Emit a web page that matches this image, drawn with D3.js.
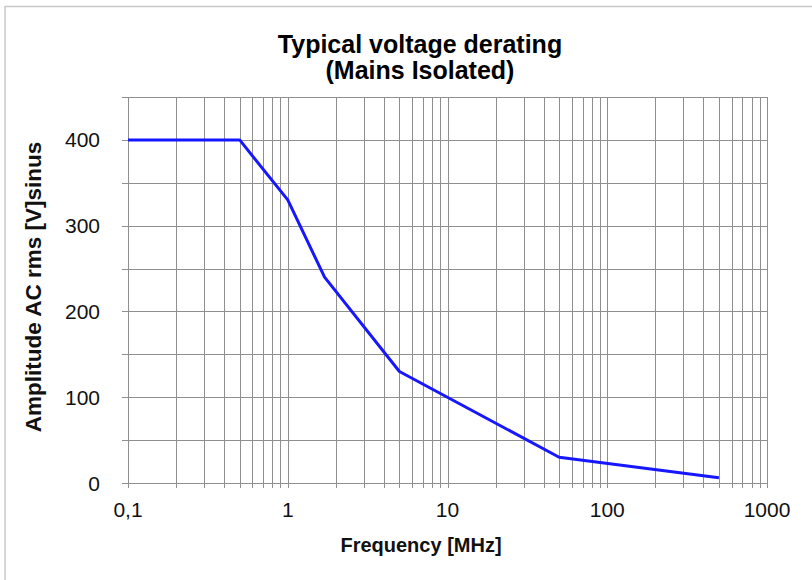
<!DOCTYPE html>
<html lang="en">
<head>
<meta charset="utf-8">
<title>Typical voltage derating</title>
<script src="https://d3js.org/d3.v7.min.js"></script>
<style>
  html, body { margin: 0; padding: 0; background: #fff; }
  svg { display: block; font-family: "Liberation Sans", Arial, sans-serif; }
</style>
</head>
<body>
<svg id="chart" width="812" height="580"></svg>
<script>
// frequency in MHz, amplitude in V rms
const freq = [0.1, 0.5, 1, 1.7, 5, 50, 500];
const amplitude = [400, 400, 330, 240, 130, 30, 6];
const xLabels = [0.1, 1, 10, 100, 1000];
const yLabels = [0, 100, 200, 300, 400];

const svg = d3.select("#chart");
const plotLeft = 128, plotRight = 767, plotTop = 97, plotBottom = 483;

const x = d3.scaleLog().domain([0.1, 1000]).range([plotLeft, plotRight]);
const y = d3.scaleLinear().domain([0, 450]).range([plotBottom, plotTop]);

// outer frame (only top and left visible in the original)
svg.append("line").attr("x1", 5).attr("x2", 812).attr("y1", 6.5).attr("y2", 6.5)
  .attr("stroke", "#c8c8c8").attr("stroke-width", 1.5);
svg.append("line").attr("x1", 5).attr("x2", 5).attr("y1", 6).attr("y2", 580)
  .attr("stroke", "#c8c8c8").attr("stroke-width", 1.5);

// grid
const grid = svg.append("g").attr("stroke", "#8f8f8f").attr("stroke-width", 1);
grid.selectAll(".vx").data(x.ticks()).join("line")
  .attr("x1", d => Math.round(x(d)) + 0.5).attr("x2", d => Math.round(x(d)) + 0.5)
  .attr("y1", plotTop).attr("y2", plotBottom + 5);
grid.selectAll(".hy").data(d3.range(0, 451, 50)).join("line")
  .attr("x1", plotLeft - 6).attr("x2", plotRight)
  .attr("y1", d => Math.round(y(d)) + 0.5).attr("y2", d => Math.round(y(d)) + 0.5);

// tick labels
svg.append("g").selectAll("text").data(xLabels).join("text")
  .attr("x", d => x(d)).attr("y", 517)
  .attr("text-anchor", "middle").attr("font-size", 21).attr("fill", "#111")
  .text(d => String(d).replace(".", ","));
svg.append("g").selectAll("text").data(yLabels).join("text")
  .attr("x", 100).attr("y", d => y(d) + 7.5)
  .attr("text-anchor", "end").attr("font-size", 21).attr("fill", "#111")
  .text(d => d);

// data line
svg.append("path")
  .datum(d3.zip(freq, amplitude))
  .attr("fill", "none").attr("stroke", "#1717ff").attr("stroke-width", 3)
  .attr("stroke-linejoin", "round")
  .attr("d", d3.line().x(d => x(d[0])).y(d => y(d[1])));

// titles
const title = svg.append("text").attr("text-anchor", "middle")
  .attr("font-weight", "bold").attr("font-size", 25).attr("fill", "#000");
title.append("tspan").attr("x", 420).attr("y", 53).text("Typical voltage derating");
title.append("tspan").attr("x", 420).attr("y", 79).text("(Mains Isolated)");

svg.append("text").attr("x", 421).attr("y", 552).attr("text-anchor", "middle")
  .attr("font-weight", "bold").attr("font-size", 20).attr("fill", "#111")
  .text("Frequency [MHz]");

svg.append("text").attr("transform", "translate(41,287) rotate(-90)")
  .attr("text-anchor", "middle").attr("font-weight", "bold").attr("font-size", 22.5).attr("fill", "#111")
  .text("Amplitude AC rms [V]sinus");
</script>
</body>
</html>
